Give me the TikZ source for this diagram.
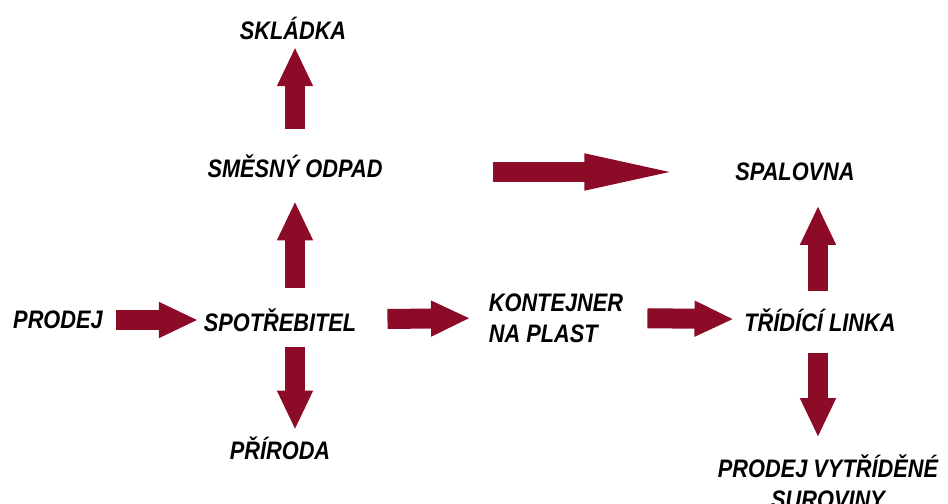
\documentclass[tikz,border=0pt]{standalone}
\usepackage{fontspec}
\setmainfont{Liberation Sans}[FakeStretch=0.86]
\usetikzlibrary{arrows.meta,positioning}
\definecolor{wine}{RGB}{140,12,40}

\begin{document}
\begin{tikzpicture}[x=0.025cm,y=-0.025cm,
  lbl/.style={inner sep=0pt,font=\fontsize{18}{22}\selectfont\bfseries\itshape},
  trim/.style 2 args={shorten <=#1*0.025cm,shorten >=#2*0.025cm},
  blk/.style={draw=wine,line width=0.5cm,
    -{Triangle[length=0.95cm,width=0.9cm,line width=1pt,sep=-1pt,fill=wine]}},
  longblk/.style={blk,
    -{Triangle[length=2.125cm,width=0.925cm,line width=1pt,sep=-1pt,fill=wine]}}]
\useasboundingbox (0,0) rectangle (948,504);
% labels
\node[lbl] (prodej) at (58,320) {PRODEJ};
\node[lbl] (spotrebitel) at (280,320) {SPOTŘEBITEL};
\node[lbl,align=left] (kontejner) at (556,318) {KONTEJNER\\NA PLAST};
\node[lbl] (linka) at (820,320) {TŘÍDÍCÍ LINKA};
\node[lbl] (smesny) at (295,166) {SMĚSNÝ ODPAD};
\node[lbl] (skladka) at (293,28) {SKLÁDKA};
\node[lbl] (spalovna) at (795,172) {SPALOVNA};
\node[lbl] (priroda) at (280,448) {PŘÍRODA};
\node[lbl,align=center] (vytridene) at (828,482) {PRODEJ VYTŘÍDĚNÉ\\SUROVINY};
% arrows
\draw[blk,trim={13}{8}] (prodej) -- (spotrebitel);
\draw[blk,trim={31}{21}] (spotrebitel) -- (kontejner.west);
\draw[blk,trim={24}{13}] (kontejner.east) -- (linka);
\draw[blk,trim={20}{26}] (spotrebitel.north -| smesny) -- (smesny);
\draw[blk,trim={15}{9}] (spotrebitel.south -| smesny) -- (priroda.north -| smesny);
\draw[blk,trim={25}{10}] (smesny.north) -- (smesny.north |- skladka.south);
\draw[longblk,trim={110}{67}] (smesny.east |- spalovna) -- (spalovna);
\draw[blk,trim={17}{27}] (linka.north -| 818,0) -- (spalovna.south -| 818,0);
\draw[blk,trim={21}{20}] (linka.south -| 818,0) -- (vytridene.north -| 818,0);
\end{tikzpicture}
\end{document}
